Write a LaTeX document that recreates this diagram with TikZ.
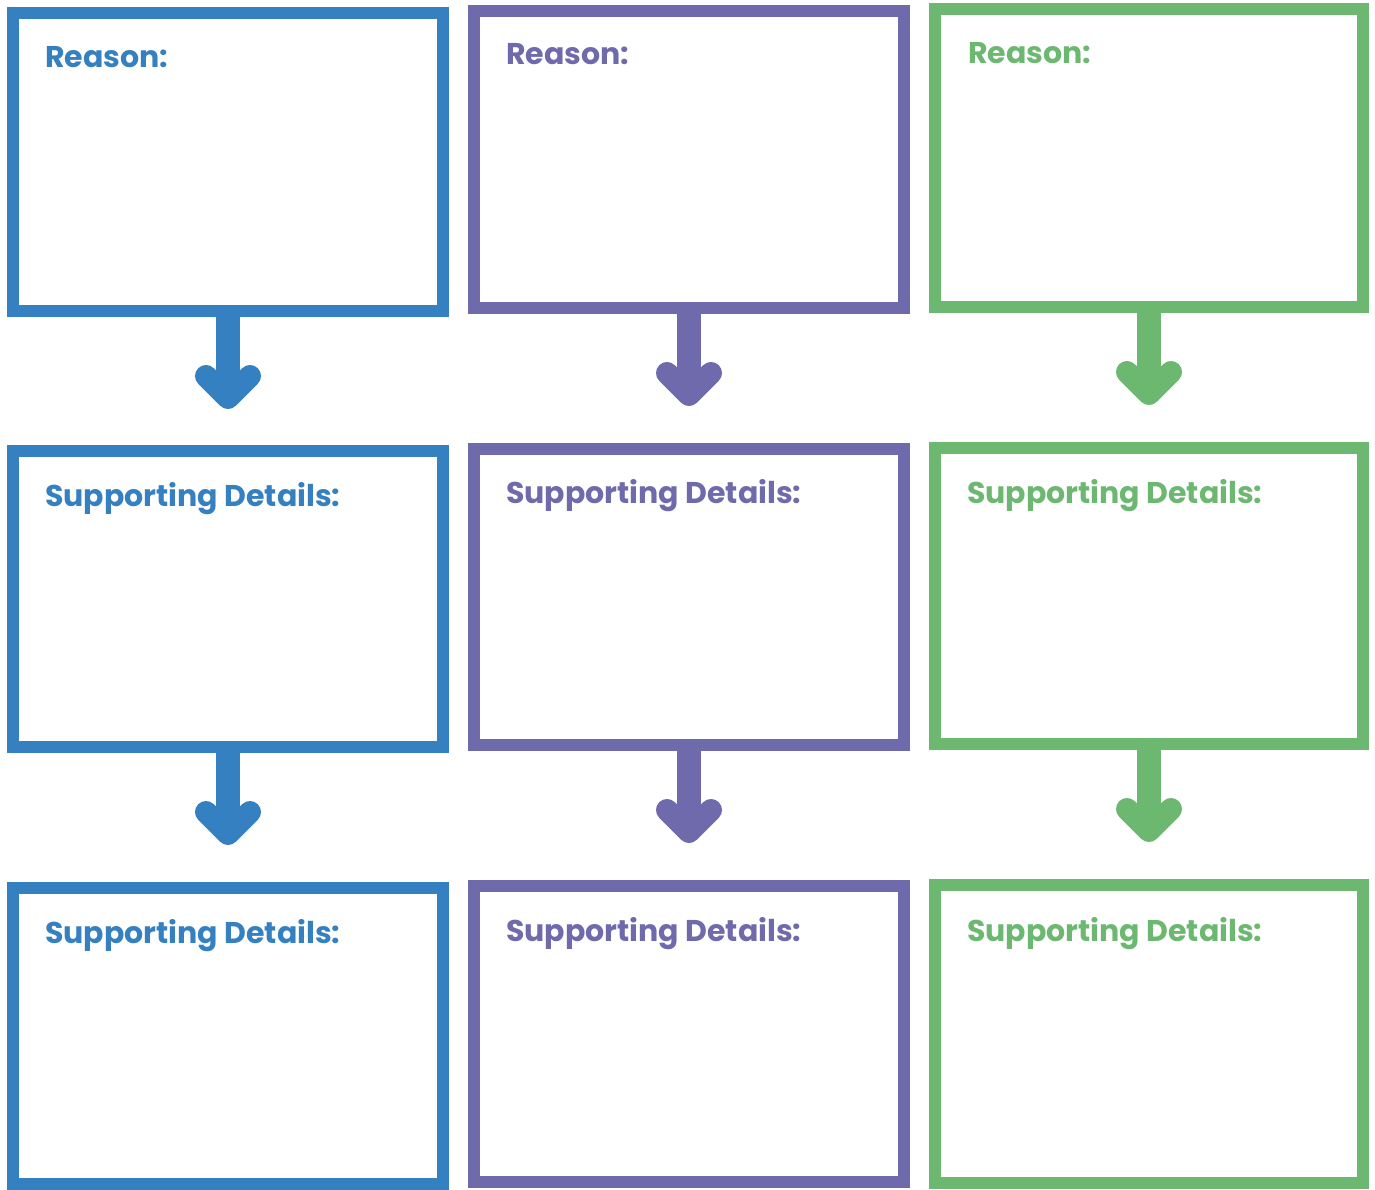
\documentclass[tikz,border=0pt]{standalone}
\usepackage{fontspec}
\setmainfont{Poppins}
\usetikzlibrary{calc}
\definecolor{cblue}{RGB}{53,128,192}
\definecolor{cpurple}{RGB}{110,106,172}
\definecolor{cgreen}{RGB}{108,184,112}
\tikzset{
  box/.style={draw=#1, line width=12pt, fill=white, inner sep=0pt},
  lbl/.style={text=#1, anchor=base west, inner sep=0pt, font=\bfseries\fontsize{30}{34}\selectfont},
  shaft/.style={draw=#1, line width=24pt},
  head/.style={draw=#1, fill=#1, line width=22pt, line cap=round, line join=round},
}
\newcommand{\flowarrow}[3]{% color, from node, name
  \coordinate (#3tip) at ($(#2.south)+(0,81)$);
  \draw[shaft=#1] (#2.south) -- ($(#3tip)+(0,-8)$);
  \draw[head=#1] ($(#3tip)+(-22,-22)$) -- (#3tip) -- ($(#3tip)+(22,-22)$);
}
\begin{document}
\begin{tikzpicture}[x=1pt,y=-1pt]
\useasboundingbox (0,0) rectangle (1375,1190);
% blue column
\node[box=cblue, minimum width=430pt, minimum height=298pt] (b1) at (228,162) {};
\node[box=cblue, minimum width=430pt, minimum height=296pt] (b2) at (228,599) {};
\node[box=cblue, minimum width=430pt, minimum height=296pt] (b3) at (228,1036) {};
% purple column
\node[box=cpurple, minimum width=430pt, minimum height=297pt] (p1) at (689,159.5) {};
\node[box=cpurple, minimum width=430pt, minimum height=296pt] (p2) at (689,597) {};
\node[box=cpurple, minimum width=430pt, minimum height=296pt] (p3) at (689,1034) {};
% green column
\node[box=cgreen, minimum width=428pt, minimum height=298pt] (g1) at (1149,158) {};
\node[box=cgreen, minimum width=428pt, minimum height=296pt] (g2) at (1149,596) {};
\node[box=cgreen, minimum width=428pt, minimum height=298pt] (g3) at (1149,1034) {};
% labels
\node[lbl=cblue] (tb1) at (45,68) {Reason:};
\node[lbl=cblue] (tb2) at (45,506) {Supporting Details:};
\node[lbl=cblue] (tb3) at (45,943) {Supporting Details:};
\node[lbl=cpurple] (tp1) at (506,65) {Reason:};
\node[lbl=cpurple] (tp2) at (506,503) {Supporting Details:};
\node[lbl=cpurple] (tp3) at (506,941) {Supporting Details:};
\node[lbl=cgreen] (tg1) at (968,64) {Reason:};
\node[lbl=cgreen] (tg2) at (967,503) {Supporting Details:};
\node[lbl=cgreen] (tg3) at (967,941) {Supporting Details:};
% arrows
\flowarrow{cblue}{b1}{ab1}
\flowarrow{cblue}{b2}{ab2}
\flowarrow{cpurple}{p1}{ap1}
\flowarrow{cpurple}{p2}{ap2}
\flowarrow{cgreen}{g1}{ag1}
\flowarrow{cgreen}{g2}{ag2}
\end{tikzpicture}
\end{document}
